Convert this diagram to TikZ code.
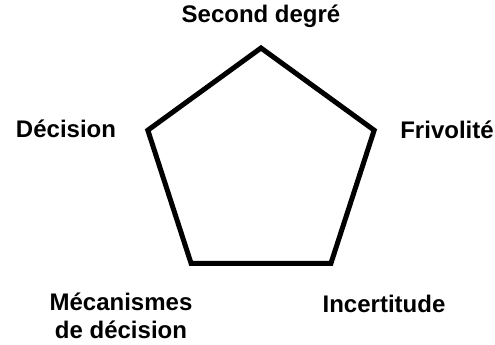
\documentclass[tikz,border=0pt]{standalone}
\usepackage{fontspec}
\setmainfont{Liberation Sans}
\usetikzlibrary{calc}

\begin{document}
\begin{tikzpicture}[x=1pt, y=1pt,
    lbl/.style={font=\bfseries\fontsize{24}{28}\selectfont, align=center, inner sep=0pt}]
    % page frame
        \useasboundingbox (0,-345) rectangle (495,0);
        \coordinate (O) at (261,-167);

    % mark corners of the pentagon
        \coordinate (T) at ($(O)+(90:119)$);
        \coordinate (R) at ($(O)+(18:119)$);
        \coordinate (BR) at ($(O)+(-54:119)$);
        \coordinate (BL) at ($(O)+(-126:119)$);
        \coordinate (L) at ($(O)+(162:119)$);

    % draw pentagon
        \draw[line width=5pt] (T) -- (R) -- (BR) -- (BL) -- (L) -- cycle;

    % labels
    \node[lbl] (second) at (261,-16) {Second degré};
    \node[lbl] (frivol) at (447,-130) {Frivolité};
    \node[lbl] (incert) at (384,-304) {Incertitude};
    \node[lbl] (meca) at (121,-316) {Mécanismes\\de décision};
    \node[lbl] (decis) at (66,-129) {Décision};

\end{tikzpicture}
\end{document}
